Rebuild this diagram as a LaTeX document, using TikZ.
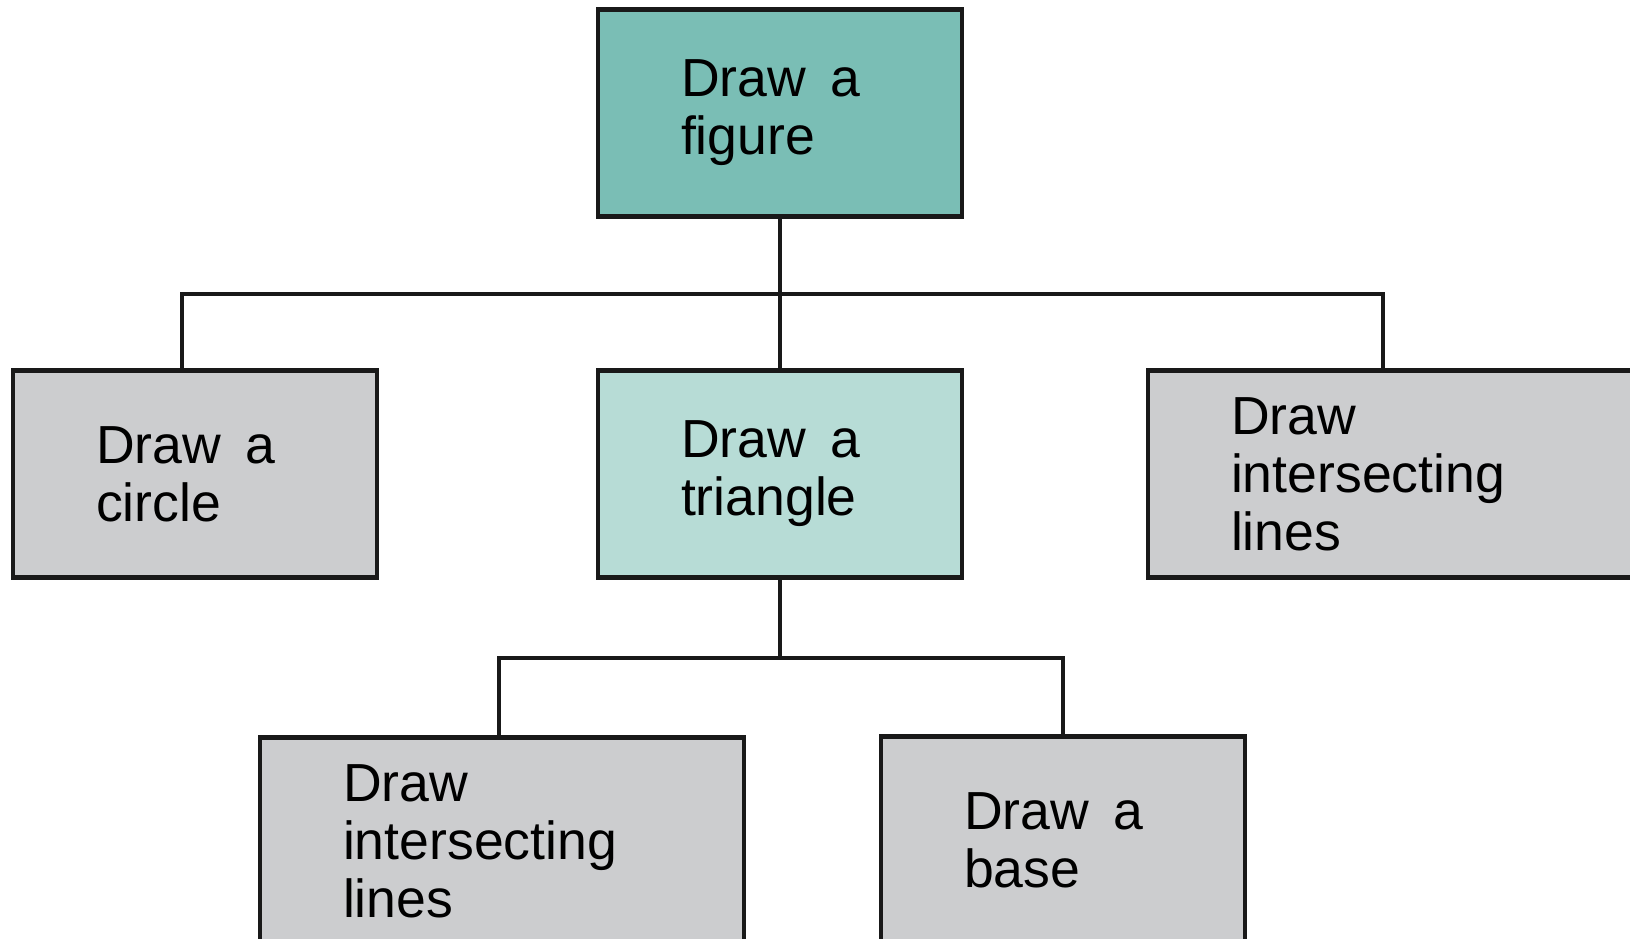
\documentclass[tikz,border=0pt]{standalone}
\usepackage{fontspec}
\setmainfont{Liberation Sans}
\usetikzlibrary{positioning}
\definecolor{figteal}{RGB}{122,190,181}
\definecolor{trimint}{RGB}{183,220,214}
\definecolor{boxgray}{RGB}{204,205,207}
\tikzset{task/.style = {draw=black!90, line width=2.6pt, fill=boxgray,
        inner xsep=1.66cm, inner ysep=0pt, minimum height=4.14cm,
        text width=3.96cm, align=left, font=\fontsize{30.5}{33}\selectfont},
    widetask/.style = {task, text width=6.36cm},
    link/.style = {line width=2.1pt, draw=black!90}}

\begin{document}
\begin{tikzpicture}[x=0.02cm,y=-0.02cm]
    \useasboundingbox (0,0) rectangle (1630,939);
    \clip (0,0) rectangle (1630,939);
    % boxes
    \node[task,fill=figteal] (fig) at (780,113) {Draw\hspace{.45em}a\\figure};
    \node[task] (circ) at (195,474) {Draw\hspace{.45em}a\\circle};
    \node[task,fill=trimint] (tri) at (780,474) {Draw\hspace{.45em}a\\triangle};
    \node[widetask] (lns) at (1390,474) {Draw\\intersecting\\lines};
    \node[widetask] (xlns) at (502,841) {Draw\\intersecting\\lines};
    \node[task] (base) at (1063,840) {Draw\hspace{.45em}a\\base};
    % connectors
    \coordinate (bar) at (780,294);
    \coordinate (bartwo) at (780,658);
    \draw[link] (fig.south) -- (tri.north);
    \draw[link] ([xshift=-0.26cm]circ.north) |- (bar) -| ([xshift=-0.14cm]lns.north);
    \draw[link] (tri.south) -- (bartwo);
    \draw[link] ([xshift=-0.06cm]xlns.north) |- (bartwo) -| (base.north);
\end{tikzpicture}
\end{document}
